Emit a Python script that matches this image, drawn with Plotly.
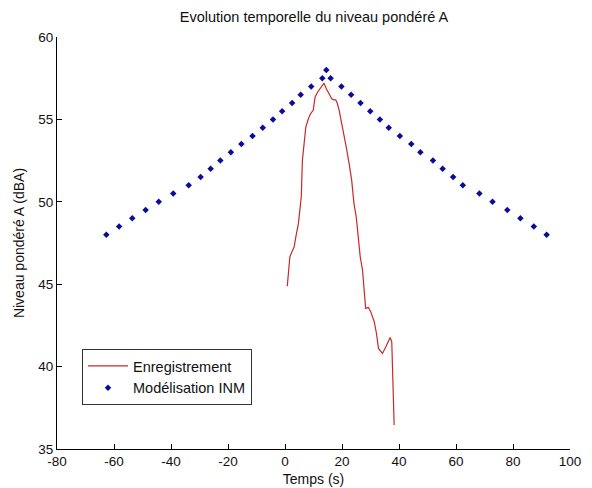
import plotly.graph_objects as go

# Enregistrement (measured A-weighted level)
rec_time = [0.8, 1.7, 2.4, 3.2, 3.8, 4.7, 5.2, 5.7, 6.1, 6.7, 7.3, 8.2, 9.0, 9.9,
            10.55, 11.4, 12.2, 13.1, 13.7, 14.5, 15.5, 16.4, 17.2, 17.8, 18.4, 19.0,
            19.9, 20.7, 21.5, 22.5, 23.4, 24.2, 25.0, 25.7, 26.4, 27.2, 27.7, 28.3,
            29.3, 30.1, 31.3, 32.1, 32.8, 34.2, 35.4, 36.9, 37.46, 37.7, 38.0, 38.3]
rec_level = [44.88, 46.65, 46.96, 47.26, 47.87, 48.68, 49.48, 50.29, 52.52, 53.73,
             54.53, 55.04, 55.35, 55.55, 56.35, 56.65, 56.86, 57.06, 57.2, 56.86,
             56.56, 56.25, 56.19, 56.19, 55.95, 55.55, 54.74, 54.13, 53.32, 52.32,
             51.3, 49.89, 49.08, 47.87, 46.65, 45.85, 44.64, 43.53, 43.59, 43.32,
             42.72, 42.01, 41.1, 40.8, 41.2, 41.77, 41.5, 40.19, 38.58, 36.45]

# Modélisation INM
inm_time = [-62.7, -58.2, -53.6, -48.9, -44.3, -39.2, -33.8, -29.6, -26.1, -22.7,
            -19.0, -15.3, -11.4, -7.8, -4.2, -1.0, 2.5, 5.5, 9.2, 13.1, 14.5,
            16.0, 19.8, 23.2, 26.5, 29.9, 33.3, 36.4, 40.3, 44.3, 47.5, 51.9,
            55.3, 59.0, 62.4, 68.2, 72.8, 78.0, 82.6, 87.3, 91.8]
inm_level = [48.0, 48.5, 49.0, 49.5, 50.0, 50.5, 51.0, 51.5, 52.0, 52.5, 53.0,
             53.5, 54.0, 54.5, 55.0, 55.5, 56.0, 56.5, 57.0, 57.5, 58.0,
             57.5, 57.0, 56.5, 56.0, 55.5, 55.0, 54.5, 54.0, 53.5, 53.0, 52.5,
             52.0, 51.5, 51.0, 50.5, 50.0, 49.5, 49.0, 48.5, 48.0]

x_ticks = [-80, -60, -40, -20, 0, 20, 40, 60, 80, 100]
y_ticks = [35, 40, 45, 50, 55, 60]

FONT = "Liberation Sans, Arial, sans-serif"
FS_TICK = 13.5
FS_TEXT = 14.5

fig = go.Figure()
fig.add_trace(go.Scatter(
    x=rec_time, y=rec_level, mode="lines", name="Enregistrement",
    line=dict(color="#c82828", width=1.2),
))
fig.add_trace(go.Scatter(
    x=inm_time, y=inm_level, mode="markers", name="Modélisation INM",
    marker=dict(symbol="diamond", size=5, color="#0c0c9a"),
))

fig.update_layout(
    width=592, height=488,
    margin=dict(l=57, r=22, t=37, b=39, autoexpand=False),
    paper_bgcolor="white", plot_bgcolor="white",
    font=dict(family=FONT, size=FS_TICK, color="#111111"),
    title=dict(text="Evolution temporelle du niveau pondéré A",
               x=314 / 592, xanchor="center", xref="container",
               y=1 - 17 / 488, yanchor="middle", yref="container",
               font=dict(family=FONT, size=FS_TEXT, color="#111111")),
    showlegend=True,
    legend=dict(x=(82 - 57) / 513, y=(449 - 405) / 412, xanchor="left", yanchor="bottom",
                bgcolor="white", bordercolor="#333333", borderwidth=1,
                font=dict(family=FONT, size=FS_TEXT, color="#111111"),
                tracegroupgap=0, itemwidth=40),
)
fig.update_xaxes(
    range=[-80, 100], tickvals=x_ticks, ticktext=[str(v) for v in x_ticks],
    ticks="inside", ticklen=5, tickcolor="black", showline=True, linecolor="black",
    linewidth=1, showgrid=False, zeroline=False, mirror=False,
    tickfont=dict(family=FONT, size=FS_TICK),
    title=dict(text="Temps (s)", standoff=5, font=dict(family=FONT, size=14)),
    automargin=False,
)
fig.update_yaxes(
    range=[35, 60], tickvals=y_ticks, ticktext=[str(v) for v in y_ticks],
    ticks="inside", ticklen=5, tickcolor="black", showline=True, linecolor="black",
    linewidth=1, showgrid=False, zeroline=False, mirror=False,
    tickfont=dict(family=FONT, size=FS_TICK),
    title=dict(text="Niveau pondéré A (dBA)", standoff=10, font=dict(family=FONT, size=14)),
    automargin=False,
)

fig.write_html("out.html")
